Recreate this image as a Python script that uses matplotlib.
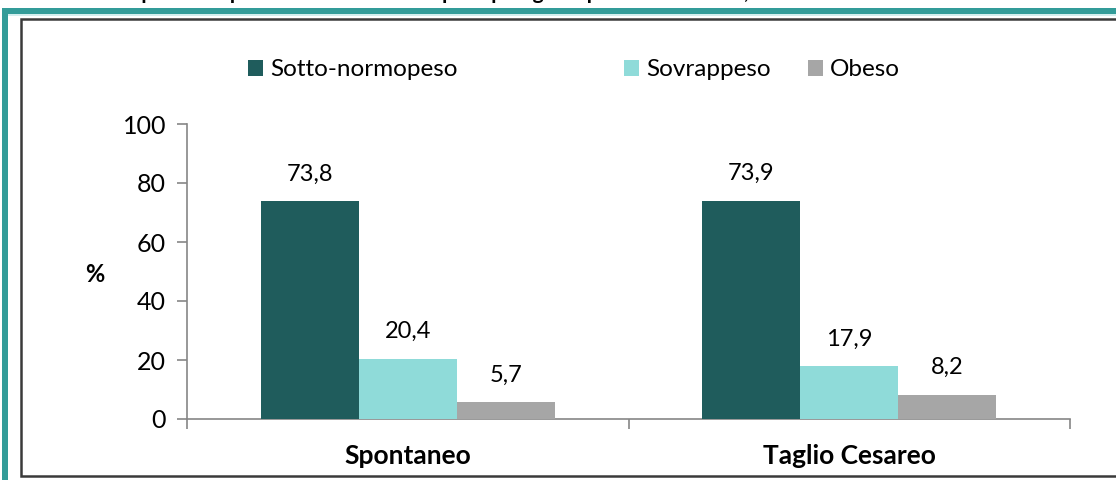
import matplotlib.pyplot as plt
import numpy as np
from matplotlib.patches import Rectangle

plt.rcParams['font.family'] = ['Lato', 'DejaVu Sans']

categories = ["Spontaneo", "Taglio Cesareo"]
series = ["Sotto-normopeso", "Sovrappeso", "Obeso"]
values = {
    "Sotto-normopeso": [73.8, 73.9],
    "Sovrappeso": [20.4, 17.9],
    "Obeso": [5.7, 8.2],
}
labels = {
    "Sotto-normopeso": ["73,8", "73,9"],
    "Sovrappeso": ["20,4", "17,9"],
    "Obeso": ["5,7", "8,2"],
}
colors = ["#1f5c5c", "#8fdbd9", "#a6a6a6"]
yticks = [0, 20, 40, 60, 80, 100]

W, H = 1116, 480
fig = plt.figure(figsize=(W / 100, H / 100), dpi=100)

# outer teal box + inner chart frame (figure pixel coords)
def px(x, y):
    return x / W, 1 - y / H

fig.patches.append(Rectangle(px(2, 480), 6 / W, 472 / H, transform=fig.transFigure,
                             facecolor="#339c99", edgecolor="none", zorder=-3))
fig.patches.append(Rectangle(px(2, 14), 1.0, 6 / H, transform=fig.transFigure,
                             facecolor="#339c99", edgecolor="none", zorder=-3))
fig.patches.append(Rectangle(px(8, 15.5), 1.0, 1.5 / H, transform=fig.transFigure,
                             facecolor="#d3eeee", edgecolor="none", zorder=-3))
fig.patches.append(Rectangle(px(21, 476), 1.2, 457 / H, transform=fig.transFigure,
                             facecolor="white", edgecolor="#3a3a3a", linewidth=1.8, zorder=-2))

# cut-off caption at the very top
fig.text(0.765, 1.014, "Parti per stato ponderale della madre per tipologia di parto nel Veneto, anno 2013",
         ha="right", va="center", fontsize=15, fontweight="bold", color="black")

ax = fig.add_axes([187 / W, 1 - 419 / H, (1070 - 187) / W, (419 - 124) / H])
ax.patch.set_alpha(0)

x = np.arange(len(categories))
bw = 2 / 9
handles = []
for i, name in enumerate(series):
    bars = ax.bar(x + (i - 1) * bw, values[name], width=bw, color=colors[i],
                  label=name, zorder=3)
    handles.append(bars)
    for b, lab in zip(bars, labels[name]):
        ax.annotate(lab, (b.get_x() + b.get_width() / 2, b.get_height()),
                    xytext=(0, 12), textcoords="offset points",
                    ha="center", va="bottom", fontsize=17)

ax.set_xlim(-0.5, 1.5)
ax.set_ylim(0, 100)
ax.set_yticks(yticks)
ax.set_yticklabels([str(t) for t in yticks], fontsize=18)
ax.set_xticks([-0.5, 0.5, 1.5])
ax.set_xticklabels([])
ax.set_xticks(x, minor=True)
ax.set_xticklabels(categories, minor=True, fontsize=19, fontweight="bold")
ax.tick_params(axis="x", which="minor", length=0, pad=18)
ax.tick_params(axis="x", which="major", length=7, color="#868686", width=1.2)
ax.tick_params(axis="y", length=7, color="#868686", width=1.2, pad=8)

for s in ["top", "right"]:
    ax.spines[s].set_visible(False)
for s in ["left", "bottom"]:
    ax.spines[s].set_color("#868686")
    ax.spines[s].set_linewidth(1.2)

fig.text(95 / W, 1 - 275 / H, "%", ha="center", va="center",
         fontsize=17, fontweight="bold")

# legend entries spread like the original
legend_pos = [(248, 70), (624, 70), (808, 70)]
for h, (lx, ly) in zip(handles, legend_pos):
    fig.legend([h], [h.get_label()], loc="center left",
               bbox_to_anchor=(lx / W, 1 - ly / H), frameon=False,
               fontsize=17.5, handlelength=0.6, handleheight=0.6,
               handletextpad=0.3, borderpad=0, borderaxespad=0)

fig.savefig("out.png", dpi=100)
